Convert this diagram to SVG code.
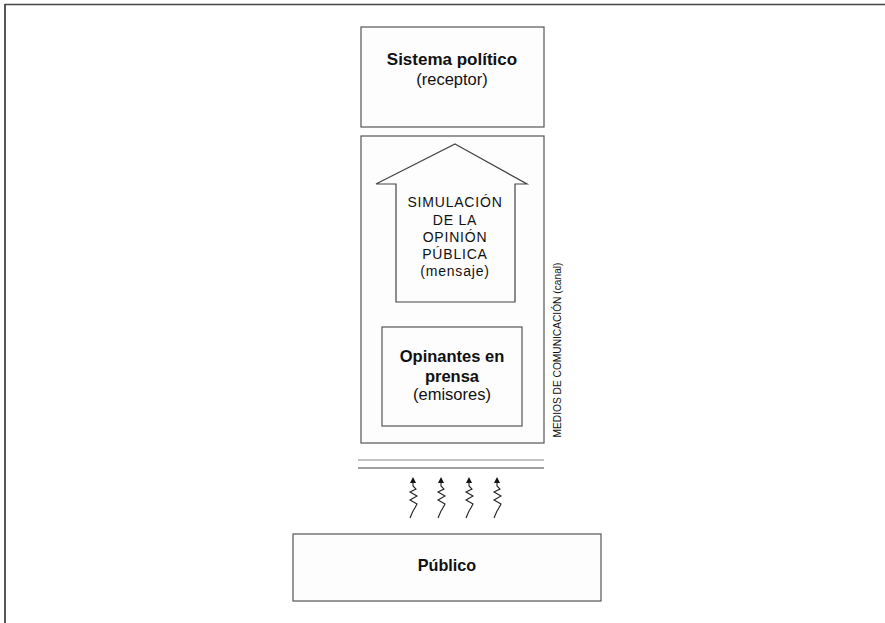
<svg xmlns="http://www.w3.org/2000/svg" width="885" height="623" viewBox="0 0 885 623">
<defs>
<style>
.box{fill:#fdfdfd;stroke:#555;stroke-width:1.2}
.t{font-family:"Liberation Sans",Arial,sans-serif;fill:#111;text-anchor:middle}
.b{font-weight:bold;font-size:16.5px}
.r{font-size:16.5px}
.s{font-size:14px;letter-spacing:0.8px}
.sq{fill:none;stroke:#222;stroke-width:1.1}
.ah{fill:#111}
</style>
</defs>
<rect width="885" height="623" fill="#fff"/>
<line x1="5" y1="4.5" x2="885" y2="4.5" stroke="#444" stroke-width="1.5"/>
<line x1="5" y1="4" x2="5" y2="623" stroke="#444" stroke-width="1.8"/>

<g id="sistema">
<rect class="box" x="361" y="27" width="183" height="100"/>
<text class="t b" style="font-size:17px" x="452" y="65">Sistema político</text>
<text class="t r" x="452" y="85">(receptor)</text>
</g>

<g id="medios">
<rect class="box" x="361" y="136" width="183" height="307"/>
<text class="t" style="font-size:10.2px" transform="translate(561,350) rotate(-90)">MEDIOS DE COMUNICACIÓN (canal)</text>
</g>

<g id="simulacion">
<path d="M455,144 L527,184 L515,184 L515,302 L396,302 L396,184 L376,184 Z" fill="#fdfdfd" stroke="#444" stroke-width="1.2"/>
<text class="t s" x="455" y="207">SIMULACIÓN</text>
<text class="t s" x="455" y="224.5">DE LA</text>
<text class="t s" x="455" y="242">OPINIÓN</text>
<text class="t s" x="455" y="259">PÚBLICA</text>
<text class="t s" x="455" y="276">(mensaje)</text>
</g>

<g id="opinantes">
<rect class="box" x="382" y="327" width="140" height="99"/>
<text class="t b" x="452" y="362">Opinantes en</text>
<text class="t b" x="452" y="382">prensa</text>
<text class="t r" x="452" y="400">(emisores)</text>
</g>

<g id="publico">
<rect class="box" x="293" y="534" width="308" height="67"/>
<text class="t b" style="font-size:16.2px" x="447" y="571">Público</text>
</g>

<g id="connectors">
<line x1="358" y1="460" x2="544" y2="460" stroke="#888" stroke-width="1.2"/>
<line x1="358" y1="468" x2="544" y2="468" stroke="#444" stroke-width="1.2"/>
<g id="sq1">
<path class="ah" d="M413,477 L416,483 L410,483 Z"/>
<path class="sq" d="M413,482 L413,486 L416,489 L410,492 L417,496 L410,500 L417,504 Q415,508 413,511 L410,518"/>
</g>
<g id="sq2">
<path class="ah" d="M441,477 L444,483 L438,483 Z"/>
<path class="sq" d="M441,482 L441,486 L444,489 L438,492 L445,496 L438,500 L445,504 Q443,508 441,511 L438,518"/>
</g>
<g id="sq3">
<path class="ah" d="M469,477 L472,483 L466,483 Z"/>
<path class="sq" d="M469,482 L469,486 L472,489 L466,492 L473,496 L466,500 L473,504 Q471,508 469,511 L466,518"/>
</g>
<g id="sq4">
<path class="ah" d="M497,477 L500,483 L494,483 Z"/>
<path class="sq" d="M497,482 L497,486 L500,489 L494,492 L501,496 L494,500 L501,504 Q499,508 497,511 L494,518"/>
</g>
</g>
</svg>
